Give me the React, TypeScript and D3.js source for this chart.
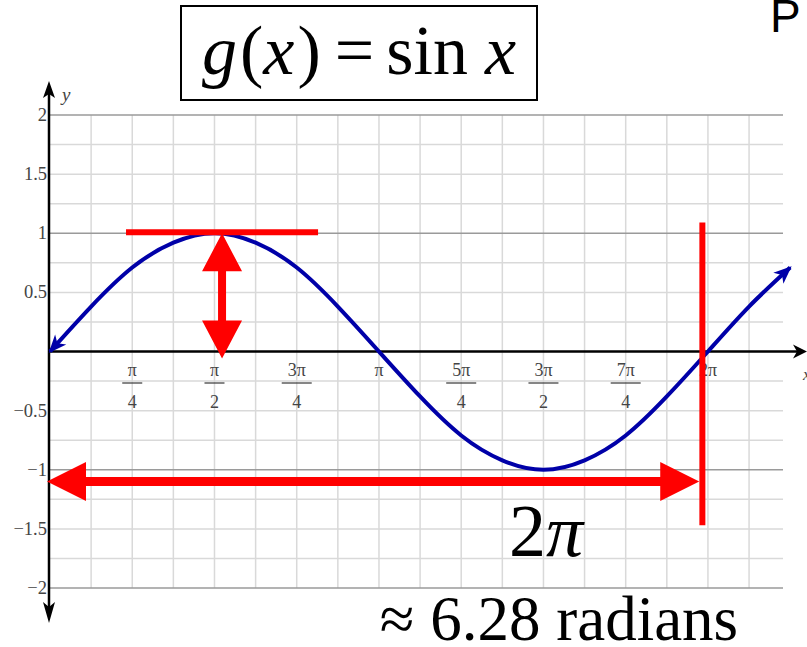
import React from "react";
import * as d3 from "d3";

// ---- data ----
// curve samples at multiples of π/8 (index i -> x = i·π/8)
const curveSteps = [0, 1, 2, 3, 4, 5, 6, 7, 8, 9, 10, 11, 12, 13, 14, 15, 16, 17, 18];
const curveValues = [0, 0.38, 0.71, 0.92, 1, 0.92, 0.71, 0.38, 0, -0.38, -0.71, -0.92, -1, -0.92, -0.71, -0.38, 0, 0.38, 0.71];

const yTickValues = [2, 1.5, 1, 0.5, -0.5, -1, -1.5, -2];
const yTickLabels = ["2", "1.5", "1", "0.5", "\u22120.5", "\u22121", "\u22121.5", "\u22122"];

// x tick positions in units of π/4
const xTickQuarters = [1, 2, 3, 4, 5, 6, 7, 8];
const xTickNumerators = ["\u03c0", "\u03c0", "3\u03c0", "\u03c0", "5\u03c0", "3\u03c0", "7\u03c0", "2\u03c0"];
const xTickDenominators = ["4", "2", "4", "", "4", "2", "4", ""];

const xDomain = [0, 7];
const yDomain = [-2, 2];

// annotations (data units)
const peakBar = { x0: 0.726, x1: 2.56, y: 1 };
const ampArrow = { x: 1.643, yTop: 1, yBottom: -0.06 };
const periodArrow = { x0: 0, x1: 6.2, y: -1.1 };
const periodLine = { x: 6.23, y0: 1.09, y1: -1.47 };

const SERIF = '"Liberation Serif", "Times New Roman", Times, serif';
const SANS = '"Liberation Sans", Arial, sans-serif';

export default function App() {
  const W = 807, H = 647;
  const xs = d3.scaleLinear().domain(xDomain).range([50, 783]);
  const ys = d3.scaleLinear().domain(yDomain).range([588, 115]);
  const step = Math.PI / 8;

  const vGrid = d3.range(1, 18).map((i) => i * step);
  const hGrid = d3.range(-8, 9).map((i) => i * 0.25).filter((v) => v !== 0);

  const line = d3
    .line<number>()
    .x((_, i) => xs(curveSteps[i] * step))
    .y((d) => ys(d))
    .curve(d3.curveNatural);
  const curvePath = line(curveValues) || "";

  const gray = "#444";
  const red = "#ff0000";
  const serifStyle = { fontFamily: SERIF };

  // red arrows
  const hx0 = xs(periodArrow.x0) - 3, hx1 = xs(periodArrow.x1);
  const hy = ys(periodArrow.y);
  const headL = 39, headW = 19.5, shaft = 4.5;
  const periodArrowPath = [
    `M${hx0},${hy}`,
    `L${hx0 + headL},${hy - headW}`,
    `L${hx0 + headL},${hy - shaft}`,
    `L${hx1 - headL},${hy - shaft}`,
    `L${hx1 - headL},${hy - headW}`,
    `L${hx1},${hy}`,
    `L${hx1 - headL},${hy + headW}`,
    `L${hx1 - headL},${hy + shaft}`,
    `L${hx0 + headL},${hy + shaft}`,
    `L${hx0 + headL},${hy + headW}`,
    "Z",
  ].join("");

  const vx = xs(ampArrow.x), vy0 = ys(ampArrow.yTop), vy1 = ys(ampArrow.yBottom);
  const ampArrowPath = [
    `M${vx},${vy0}`,
    `L${vx + 20},${vy0 + 38}`,
    `L${vx + 4},${vy0 + 38}`,
    `L${vx + 4},${vy1 - 38}`,
    `L${vx + 20},${vy1 - 38}`,
    `L${vx},${vy1}`,
    `L${vx - 20},${vy1 - 38}`,
    `L${vx - 4},${vy1 - 38}`,
    `L${vx - 4},${vy0 + 38}`,
    `L${vx - 20},${vy0 + 38}`,
    "Z",
  ].join("");

  const axX = xs(0) - 1;
  const axY = ys(0);

  return (
    <svg
      width={W}
      height={H}
      style={{ position: "absolute", left: 0, top: 0, background: "#fff", overflow: "hidden" }}
      xmlns="http://www.w3.org/2000/svg"
    >
      <defs>
        <marker id="curveArrow" markerUnits="userSpaceOnUse" markerWidth="24" markerHeight="24" viewBox="-20 -10 24 20" refX="0" refY="0" orient="auto-start-reverse">
          <path d="M2,0 L-16,-7.5 L-11,0 L-16,7.5 Z" fill="#0000a8" />
        </marker>
      </defs>

      {/* grid */}
      {vGrid.map((v, i) => (
        <line key={"v" + i} x1={xs(v)} x2={xs(v)} y1={ys(2)} y2={ys(-2)} stroke="#d9d9d9" strokeWidth={1.5} />
      ))}
      {hGrid.map((v, i) => (
        <line
          key={"h" + i}
          x1={xs(0)}
          x2={xs(7)}
          y1={ys(v)}
          y2={ys(v)}
          stroke={Number.isInteger(v) ? "#9a9a9a" : "#d9d9d9"}
          strokeWidth={1.5}
        />
      ))}

      {/* axes */}
      <line x1={axX} x2={798} y1={axY} y2={axY} stroke="#000" strokeWidth={2.5} />
      <path d={`M807,${axY} L793,${axY - 7} L797,${axY} L793,${axY + 7} Z`} fill="#000" />
      <line x1={axX} x2={axX} y1={92} y2={612} stroke="#000" strokeWidth={2.5} />
      <path d={`M${axX},81 L${axX - 6},98 L${axX},94 L${axX + 6},98 Z`} fill="#000" />
      <path d={`M${axX},623 L${axX - 6},602 L${axX},607 L${axX + 6},602 Z`} fill="#000" />
      <text x={62} y={101} style={serifStyle} fontStyle="italic" fontSize={19} fill={gray}>y</text>
      <text x={803} y={380} style={serifStyle} fontStyle="italic" fontSize={17} fill={gray}>x</text>

      {/* y tick labels */}
      {yTickValues.map((v, i) => (
        <text key={"yt" + i} x={47} y={ys(v) + 6} textAnchor="end" style={serifStyle} fontSize={18.5} fill={gray}>
          {yTickLabels[i]}
        </text>
      ))}

      {/* x tick labels */}
      {xTickQuarters.map((q, i) => {
        const cx = xs((q * Math.PI) / 4);
        const num = xTickNumerators[i];
        const den = xTickDenominators[i];
        if (!den) {
          return (
            <text key={"xt" + i} x={cx} y={376} textAnchor="middle" style={serifStyle} fontSize={18} fill={gray}>
              {num}
            </text>
          );
        }
        const half = num.length > 1 ? 15 : 10;
        return (
          <g key={"xt" + i}>
            <text x={cx} y={376} textAnchor="middle" style={serifStyle} fontSize={18} fill={gray}>{num}</text>
            <line x1={cx - half} x2={cx + half} y1={383} y2={383} stroke={gray} strokeWidth={1.3} />
            <text x={cx} y={408} textAnchor="middle" style={serifStyle} fontSize={18} fill={gray}>{den}</text>
          </g>
        );
      })}

      {/* sine curve */}
      <path d={curvePath} fill="none" stroke="#0000a8" strokeWidth={4} markerStart="url(#curveArrow)" markerEnd="url(#curveArrow)" />

      {/* red annotations */}
      <line x1={xs(peakBar.x0)} x2={xs(peakBar.x1)} y1={ys(peakBar.y) - 1} y2={ys(peakBar.y) - 1} stroke={red} strokeWidth={6} />
      <path d={ampArrowPath} fill={red} />
      <path d={periodArrowPath} fill={red} />
      <line x1={xs(periodLine.x)} x2={xs(periodLine.x)} y1={ys(periodLine.y0)} y2={ys(periodLine.y1)} stroke={red} strokeWidth={6} />

      {/* title box */}
      <rect x={181} y={6} width={356} height={94} fill="#fff" stroke="#000" strokeWidth={2} />
      <text x={359} y={74} textAnchor="middle" style={{ ...serifStyle, whiteSpace: "pre" }} fontSize={70} fill="#000">
        <tspan fontStyle="italic">g</tspan>
        <tspan dx={3}>(</tspan>
        <tspan fontStyle="italic">x</tspan>
        <tspan dx={3}>)</tspan>
        <tspan dx={14}>=</tspan>
        <tspan dx={12}>sin</tspan>
        <tspan dx={17} fontStyle="italic">x</tspan>
      </text>

      {/* 2π */}
      <text x={546} y={556} textAnchor="middle" style={serifStyle} fontSize={74} fill="#000">
        <tspan>2</tspan>
        <tspan fontStyle="italic">{"\u03c0"}</tspan>
      </text>
      <text x={559} y={640} textAnchor="middle" style={serifStyle} fontSize={63} fill="#000">
        {"\u2248 6.28 radians"}
      </text>

      {/* partial heading at right edge */}
      <text x={770} y={32} style={{ fontFamily: SANS }} fontSize={46} fill="#000">P</text>
    </svg>
  );
}
